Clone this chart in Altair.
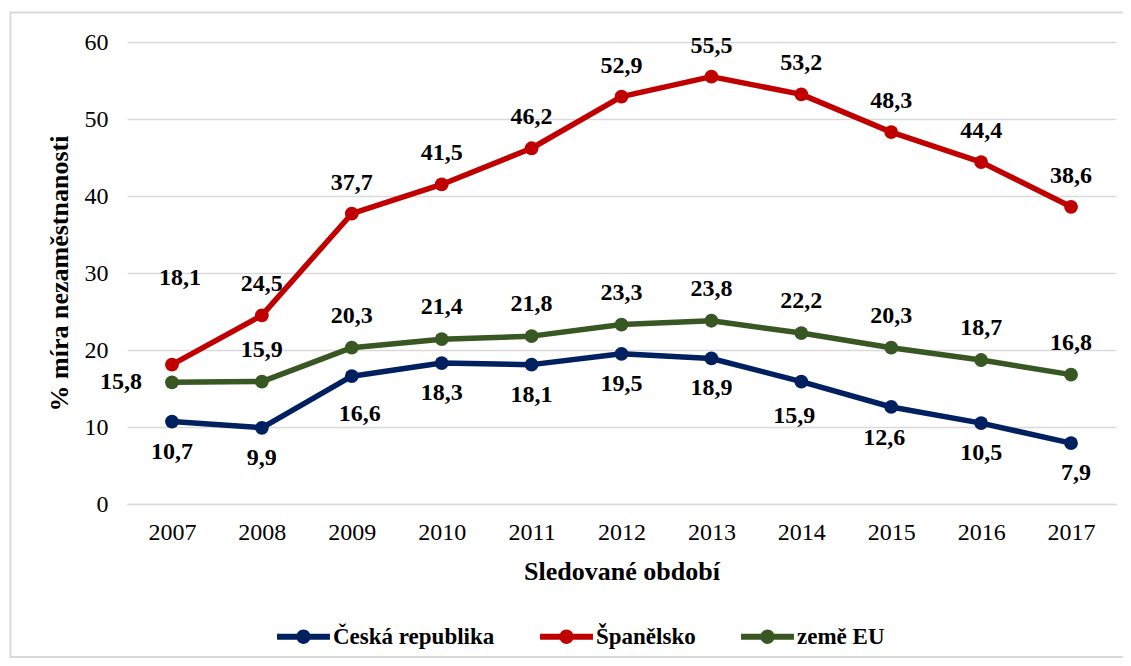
import altair as alt
import pandas as pd

years = [2007, 2008, 2009, 2010, 2011, 2012, 2013, 2014, 2015, 2016, 2017]
ceska_republika = [10.7, 9.9, 16.6, 18.3, 18.1, 19.5, 18.9, 15.9, 12.6, 10.5, 7.9]
spanelsko = [18.1, 24.5, 37.7, 41.5, 46.2, 52.9, 55.5, 53.2, 48.3, 44.4, 38.6]
zeme_eu = [15.8, 15.9, 20.3, 21.4, 21.8, 23.3, 23.8, 22.2, 20.3, 18.7, 16.8]

series_names = ["Česká republika", "Španělsko", "země EU"]
series_colors = ["#002060", "#C00000", "#385723"]

rows = []
for name, vals in zip(series_names, [ceska_republika, spanelsko, zeme_eu]):
    for yr, v in zip(years, vals):
        rows.append({"rok": str(yr), "serie": name, "hodnota": v,
                     "popisek": f"{v:.1f}".replace(".", ",")})
df = pd.DataFrame(rows)

FONT = "Liberation Serif"

x_enc = alt.X("rok:O", title="Sledované období",
              scale=alt.Scale(type="point", padding=0.5),
              axis=alt.Axis(labelAngle=0, labelFont=FONT, labelFontSize=24,
                            labelColor="#000000", labelPadding=16,
                            ticks=False, domain=True, domainColor="#d9d9d9",
                            domainWidth=1.5, grid=False,
                            titleFont=FONT, titleFontSize=26, titleFontWeight="bold",
                            titleColor="#000000", titlePadding=14))
y_enc = alt.Y("hodnota:Q", title="% míra nezaměstnanosti",
              scale=alt.Scale(domain=[0, 60], nice=False),
              axis=alt.Axis(values=[0, 10, 20, 30, 40, 50, 60], labelFont=FONT,
                            labelFontSize=24, labelColor="#000000", labelPadding=19,
                            ticks=False, domain=False, gridColor="#d9d9d9",
                            gridWidth=1.5, titleFont=FONT, titleFontSize=26,
                            titleFontWeight="bold", titleColor="#000000",
                            titlePadding=12))

legend_path = ("M-1,-0.11L1,-0.11L1,0.11L-1,0.11Z "
               "M0.27,0A0.27,0.27 0 1,1 -0.27,0A0.27,0.27 0 1,1 0.27,0Z")

color_enc = alt.Color(
    "serie:N", scale=alt.Scale(domain=series_names, range=series_colors),
    sort=series_names,
    legend=alt.Legend(title=None, orient="none", direction="horizontal",
                      legendX=150, legendY=568, labelLimit=400,
                      symbolType=legend_path, symbolSize=2800,
                      symbolStrokeWidth=0, symbolOpacity=1, labelFont=FONT,
                      labelFontSize=23, labelFontWeight="bold",
                      labelColor="#000000", labelOffset=3,
                      columnPadding=45, padding=0))

base = alt.Chart(df)

border = alt.Chart(pd.DataFrame({"a": [0]})).mark_rect(
    fillOpacity=0, stroke="#d9d9d9", strokeWidth=2
).encode(x=alt.value(-116.5), x2=alt.value(1000), y=alt.value(-29.5), y2=alt.value(615))

lines = base.mark_line(strokeWidth=5.5, strokeJoin="round").encode(
    x=x_enc, y=y_enc, color=color_enc)

points = base.mark_point(filled=True, size=190, opacity=1).encode(
    x=x_enc, y=y_enc, color=color_enc)


def labels(series, dy, dx=0, align="center", only=None, exclude=None):
    expr = f"datum.serie == '{series}'"
    if only is not None:
        expr += " && indexof(" + str(only) + ", datum.rok) >= 0"
    if exclude is not None:
        expr += " && indexof(" + str(exclude) + ", datum.rok) < 0"
    return base.transform_filter(expr).mark_text(
        font=FONT, fontSize=24, fontWeight="bold", color="#000000",
        baseline="middle", align=align, dx=dx, dy=dy).encode(
        x=x_enc, y=y_enc, text="popisek:N")


text_layers = [
    labels("Španělsko", -31, exclude=["2007"]),
    labels("Španělsko", -87, dx=8, only=["2007"]),
    labels("země EU", -32, exclude=["2007"]),
    labels("země EU", 0, dx=-30, align="right", only=["2007"]),
    labels("Česká republika", 30, exclude=["2009", "2014", "2015", "2017"]),
    labels("Česká republika", 38, dx=8, only=["2009"]),
    labels("Česká republika", 34, dx=-7, only=["2014"]),
    labels("Česká republika", 31, dx=-7, only=["2015"]),
    labels("Česká republika", 30, dx=5, only=["2017"]),
]

chart = alt.layer(border, lines, points, *text_layers).properties(
    width=989, height=462,
    autosize=alt.AutoSizeParams(type="none"),
    padding={"left": 119, "top": 34, "right": 7, "bottom": 154},
).configure_view(strokeWidth=0)

chart.save("out.html", embed_options={"renderer": "svg", "actions": False})
